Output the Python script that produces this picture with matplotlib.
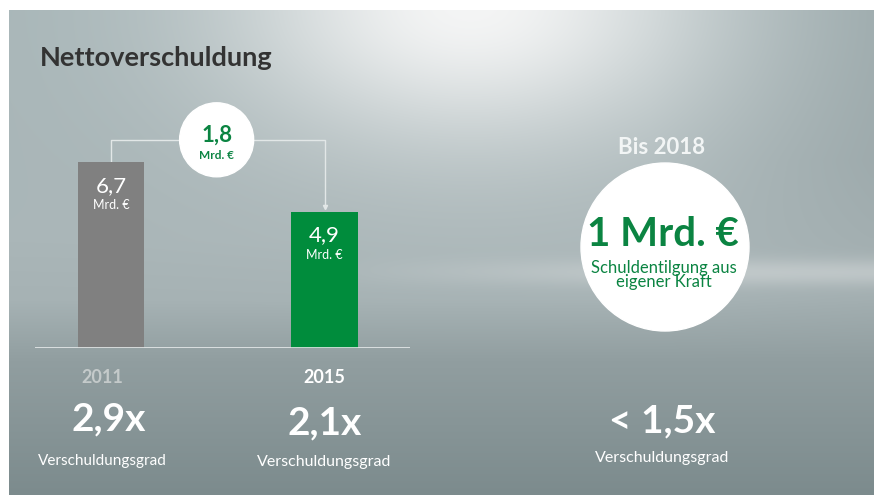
import numpy as np
import matplotlib
matplotlib.use('Agg')
import matplotlib.pyplot as plt
from matplotlib.patches import Circle

# 数据
years = ['2011', '2015']
debt = [6.7, 4.9]                      # Nettoverschuldung, Mrd. €
bar_colors = ['#808080', '#008C3C']
year_colors = ['#C4CACA', '#FFFFFF']
leverage = ['2,9x', '2,1x']
target_year = 'Bis 2018'
target_amount = '1 Mrd. €'
target_text = 'Schuldentilgung aus\neigener Kraft'
target_leverage = '< 1,5x'
lev_label = 'Verschuldungsgrad'

plt.rcParams['font.family'] = ['Lato', 'DejaVu Sans']
GREEN = '#0B8442'
W, H = 874, 495

fig = plt.figure(figsize=(W / 100, H / 100), dpi=100)
fig.patch.set_facecolor('white')
ax = fig.add_axes([0, 0, 1, 1])
ax.set_xlim(0, W)
ax.set_ylim(H, 0)
ax.axis('off')

# 背景渐变
yy, xx = np.mgrid[10:H, 9:W].astype(float)
stops_y = [10, 240, 300, 360, 495]
stops_c = np.array([[168, 182, 184], [170, 182, 184], [166, 178, 180],
                    [145, 158, 160], [124, 139, 141]])
bg = np.stack([np.interp(yy, stops_y, stops_c[:, i]) for i in range(3)], axis=-1)
bg -= (np.clip((xx - 650) / 220, 0, 1) * np.clip((360 - yy) / 200, 0, 1) * 12)[..., None]
spot = np.exp(-((xx - 470) / 240) ** 2 - ((yy - 5) / 140) ** 2)
bg = bg * (1 - 0.95 * spot[..., None]) + 248 * 0.95 * spot[..., None]
streak = np.exp(-((yy - 272) / 14) ** 2) * np.clip((xx - 300) / 400, 0, 1) * 0.35
bg = bg * (1 - streak[..., None]) + 240 * streak[..., None]
ax.imshow(np.clip(bg, 0, 255).astype(np.uint8), extent=[9, W, H, 10], aspect='auto', zorder=0)

ax.text(40, 66, 'Nettoverschuldung', fontsize=19.5, fontweight='bold', color='#333333',
        va='baseline', ha='left')

# 柱状图
base_y, px_per_unit = 348, 27.76
ymax = 8.0
bx0, bx1 = 35, 410
bax = fig.add_axes([bx0 / W, (H - base_y) / H, (bx1 - bx0) / W, ymax * px_per_unit / H])
bax.set_xlim(-0.355, 1.40)
bax.set_ylim(0, ymax)
bax.axis('off')
x = np.arange(len(debt))
bax.bar(x, debt, width=0.31, color=bar_colors, zorder=2)
bax.axhline(0, color='#E6EAEA', lw=1.2, zorder=3)

for i, v in enumerate(debt):
    bax.text(i, v - 0.85, f'{v:.1f}'.replace('.', ','), ha='center', va='center',
             fontsize=16, color='white')
    bax.text(i, v - 1.55, 'Mrd. €', ha='center', va='center', fontsize=9, color='white')

# 连接线
top_y = 7.5
bax.plot([x[0], x[0], x[1], x[1]], [debt[0], top_y, top_y, debt[1] + 0.15],
         color='#E2E7E7', lw=1, zorder=1)
bax.plot([x[1]], [debt[1] + 0.18], marker='v', ms=3, color='#E2E7E7', zorder=1)

# 差值圆 (画在 bax 上，用像素坐标，盖住连接线)
cx, cy = ax.transData.inverted().transform(bax.transData.transform((0.495, top_y)))
bax.add_patch(Circle((cx, cy), 37, color='white', zorder=5, transform=ax.transData,
                     clip_on=False))
diff = debt[0] - debt[1]
bax.text(cx, cy - 5, f'{diff:.1f}'.replace('.', ','), ha='center', va='center',
         fontsize=16, fontweight='bold', color=GREEN, zorder=6, transform=ax.transData)
bax.text(cx, cy + 16, 'Mrd. €', ha='center', va='center', fontsize=8.5,
         fontweight='bold', color=GREEN, zorder=6, transform=ax.transData)

# 年份与杠杆
for i in range(len(years)):
    px = ax.transData.inverted().transform(bax.transData.transform((x[i], 0)))[0]
    ax.text(px - (9 if i == 0 else 0), 383, years[i], ha='center', va='baseline',
            fontsize=13, fontweight='bold', color=year_colors[i])
    ax.text(px - (2 if i == 0 else 0), 430 + 4 * i, leverage[i], ha='center', va='baseline',
            fontsize=28, fontweight='bold', color='white')
    ax.text(px - (8 if i == 0 else 0), 465 + i, lev_label, ha='center', va='baseline',
            fontsize=11.5 if i else 11, color='white')

# 右侧目标
ax.text(662, 154, target_year, ha='center', va='baseline', fontsize=16,
        fontweight='bold', color='#F2F5F5')
ax.add_patch(Circle((665, 247), 84, color='white', zorder=5))
ax.text(663, 246, target_amount, ha='center', va='baseline', fontsize=29,
        fontweight='bold', color=GREEN, zorder=6)
ax.text(664, 275, target_text, ha='center', va='center', fontsize=12,
        color=GREEN, linespacing=0.9, zorder=6)
ax.text(662, 432, target_leverage, ha='center', va='baseline', fontsize=28,
        fontweight='bold', color='white')
ax.text(662, 462, lev_label, ha='center', va='baseline', fontsize=11.5, color='white')

fig.savefig('out.png', dpi=100)
